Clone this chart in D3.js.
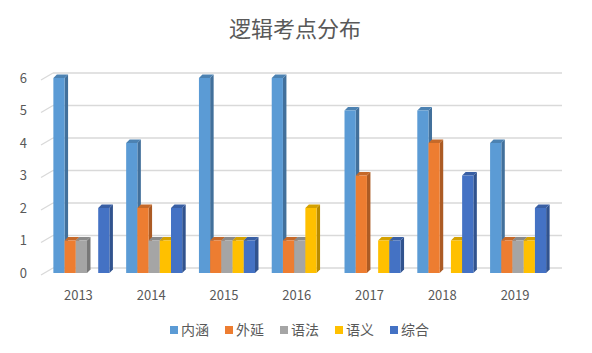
<!DOCTYPE html>
<html>
<head>
<meta charset="utf-8">
<script src="https://cdn.jsdelivr.net/npm/d3@7"></script>
<style>
  body { margin: 0; background: #fff; }
  svg { font-family: "Microsoft YaHei", "Noto Sans CJK SC", sans-serif; }
</style>
</head>
<body>
<svg width="592" height="353"></svg>
<script>
const years = ['2013', '2014', '2015', '2016', '2017', '2018', '2019'];
const seriesNames = ['内涵', '外延', '语法', '语义', '综合'];
const neihan = [6, 4, 6, 6, 5, 5, 4];
const waiyan = [1, 2, 1, 1, 3, 4, 1];
const yufa = [1, 1, 1, 1, 0, 0, 1];
const yuyi = [0, 1, 1, 2, 1, 1, 1];
const zonghe = [2, 2, 1, 0, 1, 3, 2];
const yTicks = [0, 1, 2, 3, 4, 5, 6];

const seriesValues = [neihan, waiyan, yufa, yuyi, zonghe];
const colors = ['#5B9BD5', '#ED7D31', '#A5A5A5', '#FFC000', '#4472C4'];

const svg = d3.select('svg');
const textColor = '#595959';
const depthX = 3.5, depthY = -3.5;
const wallX = 8, wallY = -5;

const x0 = d3.scaleBand()
    .domain(years)
    .range([45, 554.5])
    .paddingInner(0.23)
    .paddingOuter(0.115);

const x1 = d3.scaleBand()
    .domain(seriesNames)
    .range([0, x0.bandwidth()]);

const y = d3.scaleLinear()
    .domain([0, 6])
    .range([273, 78]);

// title
svg.append('text')
    .attr('x', 295)
    .attr('y', 37)
    .attr('text-anchor', 'middle')
    .style('font-size', '22px')
    .style('fill', textColor)
    .text('逻辑考点分布');

// gridlines on back wall + left wall edges
const grid = svg.append('g');
yTicks.forEach(t => {
    const yy = y(t);
    grid.append('line')
        .attr('x1', 41).attr('y1', yy + 2)
        .attr('x2', 41 + wallX + 4).attr('y2', yy + wallY)
        .attr('stroke', '#d9d9d9').attr('stroke-width', 1.3);
    grid.append('line')
        .attr('x1', 41 + wallX + 4).attr('y1', yy + wallY)
        .attr('x2', 562).attr('y2', yy + wallY)
        .attr('stroke', '#d9d9d9').attr('stroke-width', 1.3);
});

// y labels
svg.append('g').selectAll('text')
    .data(yTicks)
    .enter().append('text')
    .attr('x', 27)
    .attr('y', d => y(d))
    .attr('dy', '0.35em')
    .attr('text-anchor', 'end')
    .style('font-size', '13px')
    .style('fill', textColor)
    .text(d => d);

// x labels
svg.append('g').selectAll('text')
    .data(years)
    .enter().append('text')
    .attr('x', d => x0(d) + x0.bandwidth() / 2 - 3)
    .attr('y', 300)
    .attr('text-anchor', 'middle')
    .style('font-size', '13px')
    .style('fill', textColor)
    .text(d => d);

// bars, drawn left to right so 3D faces overlap correctly
const bars = [];
years.forEach((yr, i) => {
    seriesNames.forEach((s, j) => {
        const v = seriesValues[j][i];
        if (v > 0) bars.push({ year: yr, series: s, value: v, color: colors[j] });
    });
});

const barG = svg.append('g');
bars.forEach(d => {
    const bx = x0(d.year) + x1(d.series);
    const bw = x1.bandwidth();
    const top = y(d.value);
    const bottom = y(0);
    const c = d3.color(d.color);
    const g = barG.append('g');
    // side face
    g.append('path')
        .attr('d', `M${bx + bw},${top} L${bx + bw + depthX},${top + depthY} L${bx + bw + depthX},${bottom + depthY} L${bx + bw},${bottom} Z`)
        .attr('fill', c.darker(0.9));
    // top face
    g.append('path')
        .attr('d', `M${bx},${top} L${bx + depthX},${top + depthY} L${bx + bw + depthX},${top + depthY} L${bx + bw},${top} Z`)
        .attr('fill', c.darker(0.5));
    // front face
    g.append('rect')
        .attr('x', bx)
        .attr('y', top)
        .attr('width', bw)
        .attr('height', bottom - top)
        .attr('fill', d.color);
});

// legend
const legend = svg.append('g');
seriesNames.forEach((s, i) => {
    const lx = 170 + i * 55;
    legend.append('rect')
        .attr('x', lx).attr('y', 326)
        .attr('width', 8).attr('height', 8)
        .attr('fill', colors[i]);
    legend.append('text')
        .attr('x', lx + 11).attr('y', 330)
        .attr('dy', '0.36em')
        .style('font-size', '14px')
        .style('fill', textColor)
        .text(s);
});
</script>
</body>
</html>
